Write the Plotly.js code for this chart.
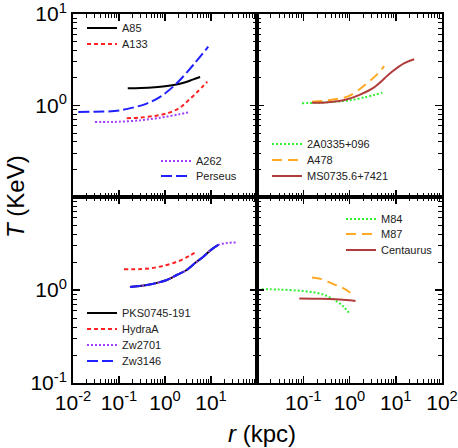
<!DOCTYPE html>
<html>
<head>
<meta charset="utf-8">
<script src="https://cdn.plot.ly/plotly-3.0.1.min.js"></script>
<style>
  html, body { margin: 0; padding: 0; background: #fff; }
  #chart { width: 458px; height: 448px; }
</style>
</head>
<body>
<div id="chart"></div>
<script>
// radius r (kpc) and temperature T (keV)

// top left
const a85R = [0.155, 0.3, 0.6, 1, 2, 3, 4, 5.8];
const a85T = [1.54, 1.55, 1.58, 1.62, 1.72, 1.82, 1.92, 2.05];
const a133R = [0.147, 0.3, 0.6, 1.1, 2, 3, 5, 8.3];
const a133T = [0.724, 0.74, 0.77, 0.82, 0.93, 1.1, 1.4, 1.82];
const a262R = [0.03, 0.06, 0.1, 0.3, 0.6, 1, 2, 3.5];
const a262T = [0.66, 0.66, 0.665, 0.69, 0.72, 0.75, 0.8, 0.85];
const perseusR = [0.013, 0.03, 0.08, 0.17, 0.4, 0.8, 1.8, 4.1, 8.7];
const perseusT = [0.85, 0.855, 0.87, 0.93, 1.05, 1.25, 1.75, 2.77, 4.39];

// top right
const a0335R = [0.094, 0.2, 0.5, 0.9, 2, 5.1];
const a0335T = [1.06, 1.07, 1.1, 1.13, 1.22, 1.38];
const a478R = [0.155, 0.3, 0.6, 0.9, 1.5, 2.4, 4, 5.6];
const a478T = [1.1, 1.13, 1.19, 1.25, 1.45, 1.75, 2.2, 2.7];
const ms0735R = [0.155, 0.3, 0.6, 0.89, 1.6, 3.4, 7.8, 15, 25];
const ms0735T = [1.07, 1.08, 1.12, 1.17, 1.3, 1.58, 2.28, 2.89, 3.2];

// bottom left
const pksR = [0.173, 0.25, 0.4, 0.7, 1.09, 1.8, 2.96, 4.5, 6.8, 10, 14.4];
const pksT = [1.08, 1.1, 1.13, 1.2, 1.28, 1.45, 1.64, 1.95, 2.28, 2.7, 3.05];
const hydraR = [0.128, 0.3, 0.6, 1.1, 2, 3.5, 4.9];
const hydraT = [1.67, 1.68, 1.74, 1.86, 2.05, 2.35, 2.58];
const zw2701R = [0.173, 0.25, 0.4, 0.7, 1.09, 1.8, 2.96, 4.5, 6.8, 10, 14.4, 22, 37];
const zw2701T = [1.08, 1.1, 1.13, 1.2, 1.28, 1.45, 1.64, 1.95, 2.28, 2.7, 3.05, 3.2, 3.25];
const zw3146R = [0.173, 0.25, 0.4, 0.7, 1.09, 1.8, 2.96, 4.5, 6.8, 10, 14.4];
const zw3146T = [1.08, 1.1, 1.13, 1.2, 1.28, 1.45, 1.64, 1.95, 2.28, 2.7, 3.05];

// bottom right
const m84R = [0.0126, 0.03, 0.1, 0.2, 0.33, 0.54, 0.75, 0.97];
const m84T = [1.02, 1.01, 0.975, 0.93, 0.86, 0.75, 0.66, 0.57];
const m87R = [0.155, 0.25, 0.46, 0.7, 1.05];
const m87T = [1.36, 1.31, 1.15, 1.06, 0.935];
const centaurusR = [0.082, 0.2, 0.5, 1, 1.35];
const centaurusT = [0.81, 0.805, 0.795, 0.775, 0.76];

const xMajor = [0.01, 0.1, 1, 10, 100];
const yMajor = [0.1, 1, 10];
const xLabelsLeft = ['10<sup>-2</sup>', '10<sup>-1</sup>', '10<sup>0</sup>', '10<sup>1</sup>', ''];
const xLabelsRight = ['', '10<sup>-1</sup>', '10<sup>0</sup>', '10<sup>1</sup>', '10<sup>2</sup>'];
const yLabelsTop = ['', '10<sup>0</sup>', '10<sup>1</sup>'];
const yLabelsBottom = ['10<sup>-1</sup>', '10<sup>0</sup>', ''];

function minorTicks(majors) {
    let out = [];
    for (let i = 0; i < majors.length - 1; i++) {
        for (let k = 2; k <= 9; k++) out.push(majors[i] * k);
    }
    return out;
}

const BLACK = '#000000';
const RED = '#ff2222';
const PURPLE = '#a040ff';
const BLUE = '#2020ff';
const GREEN = '#33ee33';
const ORANGE = '#ffaa22';
const BROWN = '#b03c3c';

// plot area in pixels
const L = 73, R = 442, T = 14, B = 383;
const W = R - L, H = B - T;
const px = v => (v - L) / W;
const py = v => (B - v) / H;

let legendCount = 0;
let legends = {};

function line(name, x, y, sub, color, dash, lx, ly) {
    legendCount += 1;
    const key = legendCount === 1 ? 'legend' : 'legend' + legendCount;
    legends[key] = {
        x: px(lx - 40), y: py(ly),
        xanchor: 'left', yanchor: 'middle',
        bgcolor: 'rgba(0,0,0,0)',
        font: {family: 'Liberation Sans, Arial, sans-serif', size: 11, color: '#222'},
        itemwidth: 30,
    };
    return {
        x: x, y: y, name: name,
        type: 'scatter', mode: 'lines',
        line: {color: color, dash: dash, width: 2, shape: 'spline'},
        xaxis: 'x' + (sub === 1 ? '' : sub),
        yaxis: 'y' + (sub === 1 ? '' : sub),
        legend: key,
    };
}

const SHORT = '4px,3px';
const DOT = '2px,2px';
const LONG = '11px,4px';
const LONG2 = '10px,6px';

const traces = [
    line('A85', a85R, a85T, 1, BLACK, 'solid', 122, 28),
    line('A133', a133R, a133T, 1, RED, SHORT, 122, 44),
    line('A262', a262R, a262T, 1, PURPLE, DOT, 196, 161),
    line('Perseus', perseusR, perseusT, 1, BLUE, LONG, 196, 176),

    line('2A0335+096', a0335R, a0335T, 2, GREEN, DOT, 307, 144),
    line('A478', a478R, a478T, 2, ORANGE, LONG2, 307, 160),
    line('MS0735.6+7421', ms0735R, ms0735T, 2, BROWN, 'solid', 307, 176),

    line('PKS0745-191', pksR, pksT, 3, BLACK, 'solid', 122, 313),
    line('HydraA', hydraR, hydraT, 3, RED, SHORT, 122, 329),
    line('Zw2701', zw2701R, zw2701T, 3, PURPLE, DOT, 122, 345),
    line('Zw3146', zw3146R, zw3146T, 3, BLUE, LONG, 122, 361),

    line('M84', m84R, m84T, 4, GREEN, DOT, 381, 219),
    line('M87', m87R, m87T, 4, ORANGE, LONG2, 381, 234),
    line('Centaurus', centaurusR, centaurusT, 4, BROWN, 'solid', 381, 250),
];

const tickFont = {family: 'Liberation Sans, Arial, sans-serif', size: 21, color: '#000'};
const splitX = 184 / W;
const splitY = 186 / H;

function axis(kind, domain, anchor, labels) {
    const majors = kind === 'x' ? xMajor : yMajor;
    return {
        type: 'log',
        range: kind === 'x' ? [-2, 2] : [-1, 1],
        domain: domain,
        anchor: anchor,
        showline: true, linewidth: 2, linecolor: '#000', mirror: 'ticks',
        ticks: 'inside', ticklen: 7, tickwidth: 1.5, tickcolor: '#000',
        tickmode: 'array', tickvals: majors,
        ticktext: labels || majors.map(() => ''),
        showticklabels: !!labels,
        ticklabeloverflow: 'allow',
        minor: {ticks: 'inside', ticklen: 4, tickwidth: 1, tickcolor: '#000',
                tickmode: 'array', tickvals: minorTicks(majors), showgrid: false},
        showgrid: false, zeroline: false,
        tickfont: tickFont,
        fixedrange: true,
    };
}

const titleFont = {family: 'Liberation Sans, Arial, sans-serif', size: 24, color: '#000'};

const layout = Object.assign({
    width: 458, height: 448,
    margin: {l: L, r: 458 - R, t: T, b: 448 - B},
    paper_bgcolor: '#fff', plot_bgcolor: '#fff',
    showlegend: true,
    xaxis: axis('x', [0, splitX], 'y'),
    yaxis: axis('y', [splitY, 1], 'x', yLabelsTop),
    xaxis2: axis('x', [splitX, 1], 'y2'),
    yaxis2: axis('y', [splitY, 1], 'x2'),
    xaxis3: axis('x', [0, splitX], 'y3', xLabelsLeft),
    yaxis3: axis('y', [0, splitY], 'x3', yLabelsBottom),
    xaxis4: axis('x', [splitX, 1], 'y4', xLabelsRight),
    yaxis4: axis('y', [0, splitY], 'x4'),
    annotations: [
        {
            text: '<i>T</i> (KeV)', textangle: -90,
            x: px(15), y: py(197), xref: 'paper', yref: 'paper',
            xanchor: 'center', yanchor: 'middle',
            showarrow: false, font: titleFont,
        },
        {
            text: '<i>r</i> (kpc)',
            x: px(262), y: py(433), xref: 'paper', yref: 'paper',
            xanchor: 'center', yanchor: 'middle',
            showarrow: false, font: titleFont,
        },
    ],
}, legends);

Plotly.newPlot('chart', traces, layout, {displayModeBar: false, staticPlot: true});
</script>
</body>
</html>
